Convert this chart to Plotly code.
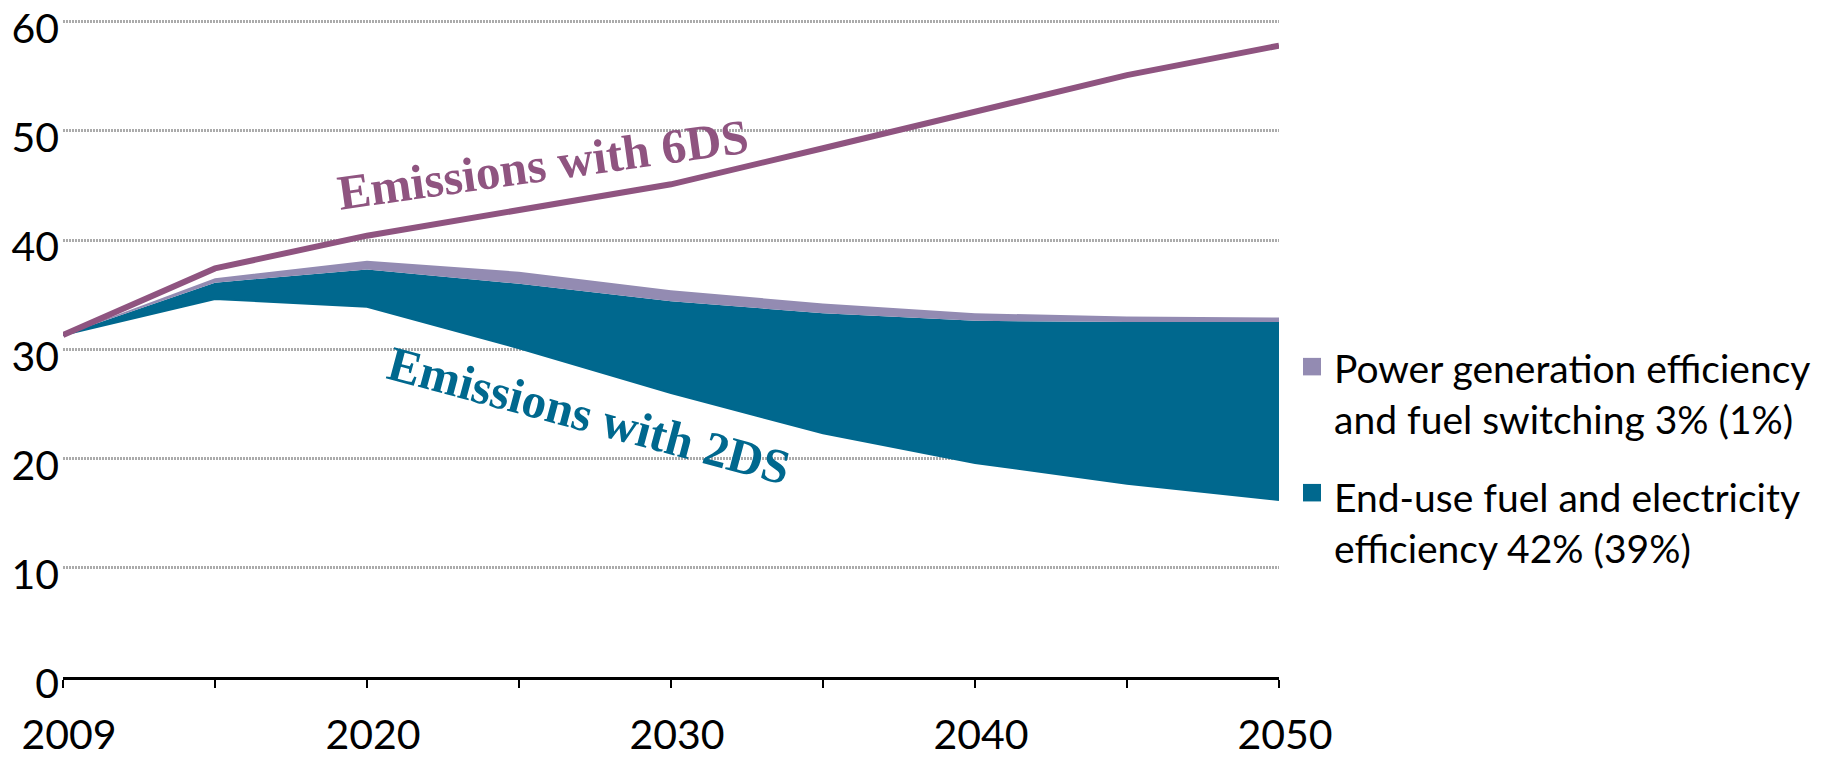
import plotly.graph_objects as go

# Scenario years on a category axis; only every decade is labelled
years = ["2009", "2015", "2020", "2025", "2030", "2035", "2040", "2045", "2050"]
year_labels = ["2009", "", "2020", "", "2030", "", "2040", "", "2050"]

# Emissions (Gt CO2)
emissions_6ds = [31.3, 37.4, 40.4, 42.7, 45.1, 48.4, 51.8, 55.1, 57.8]
emissions_2ds = [31.3, 34.6, 33.9, 30.1, 26.0, 22.3, 19.6, 17.7, 16.2]

# Reduction wedges stacked on top of the 2DS pathway
end_use_savings = [0.0, 1.5, 3.4, 5.9, 8.4, 11.0, 13.0, 14.8, 16.3]
power_savings = [0.0, 0.4, 0.8, 1.1, 1.0, 0.9, 0.7, 0.5, 0.4]

y_ticks = [0, 10, 20, 30, 40, 50, 60]

legend_entries = [
    "Power generation efficiency<br>and fuel switching 3% (1%)",
    "End-use fuel and electricity<br>efficiency 42% (39%)",
]

PURPLE = "#8F5480"
TEAL = "#00688E"
LAVENDER = "#938BB2"
GRID = "#ABABAB"
FONT = "Lato"

W, H = 1829, 757
Y_TOP = 60.6
M_L, M_R, M_B = 63, 550, 80
PX_PER_UNIT = 10.92
PLOT_W = W - M_L - M_R
PLOT_H = PX_PER_UNIT * Y_TOP
M_T = H - M_B - PLOT_H


def px_to_paper(x, y):
    return (x - M_L) / PLOT_W, (H - M_B - y) / PLOT_H


fig = go.Figure()

fig.add_trace(go.Scatter(
    x=years, y=emissions_2ds, stackgroup="cut", mode="lines",
    line=dict(color=TEAL, width=2), fillcolor="rgba(0,0,0,0)",
    name="Emissions with 2DS", showlegend=False,
))
fig.add_trace(go.Scatter(
    x=years, y=end_use_savings, stackgroup="cut", mode="lines",
    line=dict(color=TEAL, width=0), fillcolor=TEAL,
    name="End-use fuel and electricity efficiency", showlegend=False,
))
fig.add_trace(go.Scatter(
    x=years, y=power_savings, stackgroup="cut", mode="lines",
    line=dict(color=LAVENDER, width=0), fillcolor=LAVENDER,
    name="Power generation efficiency and fuel switching", showlegend=False,
))
fig.add_trace(go.Scatter(
    x=years, y=emissions_6ds, mode="lines",
    line=dict(color=PURPLE, width=6),
    name="Emissions with 6DS", showlegend=False,
))

annotations = [
    dict(x=3.16, y=46.9, xref="x", yref="y", text="<b>Emissions with 6DS</b>",
         textangle=-8, showarrow=False,
         font=dict(family="Liberation Serif", size=49, color=PURPLE)),
    dict(x=3.46, y=23.9, xref="x", yref="y", text="<b>Emissions with 2DS</b>",
         textangle=15, showarrow=False,
         font=dict(family="Liberation Serif", size=49, color=TEAL)),
]

shapes = []
legend_layout = [(LAVENDER, 358, 394), (TEAL, 484, 523)]
for (color, sq_top, text_mid), label in zip(legend_layout, legend_entries):
    x0, y0 = px_to_paper(1303, sq_top)
    x1, y1 = px_to_paper(1321, sq_top + 17.5)
    shapes.append(dict(type="rect", xref="paper", yref="paper",
                       x0=x0, x1=x1, y0=y1, y1=y0,
                       fillcolor=color, line=dict(width=0)))
    tx, ty = px_to_paper(1332, text_mid)
    annotations.append(dict(x=tx, y=ty, xref="paper", yref="paper",
                            xanchor="left", yanchor="middle", align="left",
                            text=label, showarrow=False,
                            font=dict(family=FONT, size=39, color="black")))

fig.update_layout(
    width=W, height=H,
    margin=dict(l=M_L, r=M_R, t=M_T, b=M_B, pad=0, autoexpand=False),
    paper_bgcolor="white", plot_bgcolor="white",
    font=dict(family=FONT, size=40, color="black"),
    showlegend=False,
    annotations=annotations,
    shapes=shapes,
)

fig.update_xaxes(
    type="category", range=[0, len(years) - 1], automargin=False,
    tickmode="array", tickvals=years, ticktext=year_labels,
    ticks="outside", ticklen=8, tickwidth=2, tickcolor="black",
    showline=True, linecolor="black", linewidth=3,
    showgrid=False, zeroline=False,
    tickfont=dict(family=FONT, size=41, color="black"),
    ticklabelstandoff=12, ticklabelshift=6, ticklabeloverflow="allow",
)
fig.update_yaxes(
    range=[0, Y_TOP], tickmode="array", tickvals=y_ticks, automargin=False,
    ticks="", showline=False, zeroline=False,
    showgrid=True, gridcolor=GRID, gridwidth=3, griddash="2px,1px",
    tickfont=dict(family=FONT, size=41, color="black"),
    ticklabelstandoff=3, ticklabelshift=7, ticklabeloverflow="allow",
)

fig.write_html("out.html")
